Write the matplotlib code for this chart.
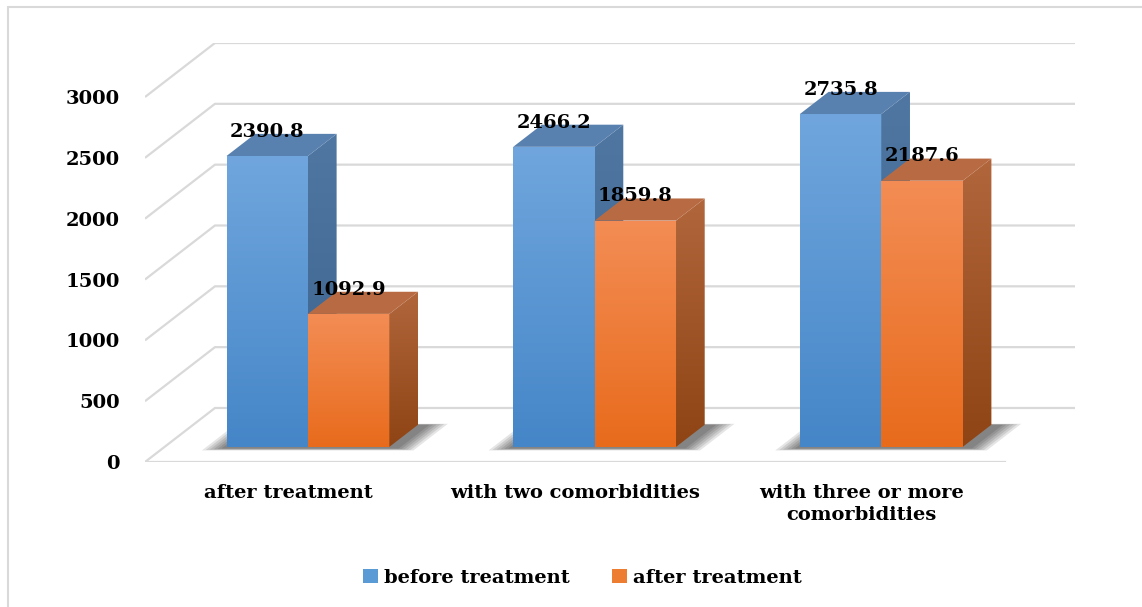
import numpy as np
import matplotlib.pyplot as plt
from matplotlib.patches import Polygon, Rectangle, Patch
from matplotlib.colors import LinearSegmentedColormap

categories = ["after treatment", "with two comorbidities", "with three or more\ncomorbidities"]
before = [2390.8, 2466.2, 2735.8]
after = [1092.9, 1859.8, 2187.6]
series_names = ["before treatment", "after treatment"]
yticks = [0, 500, 1000, 1500, 2000, 2500, 3000]

plt.rcParams['font.family'] = 'DejaVu Serif'
plt.rcParams['font.weight'] = 'bold'

W, H = 1142, 607
fig = plt.figure(figsize=(W / 100, H / 100), dpi=100)
ax = fig.add_axes([145 / W, (H - 462) / H, 930 / W, 419 / H])

# fake 3d: depth shift in category units / value units
dxc = 0.244
dyv = 444
f0, fd = 0.28, 0.41
bw = 0.284

def proj(x, y, d):
    return (x + d * dxc, y + d * dyv)

# back wall grid + floor front edge
for v in yticks:
    ax.plot([-0.5, -0.5 + dxc, 2.5 + dxc], [v, v + dyv, v + dyv],
            color='#d9d9d9', lw=1.6, zorder=1, solid_capstyle='butt')
ax.plot([-0.5, 2.5], [0, 0], color='#d9d9d9', lw=1.6, zorder=1)

front_cols = [('#70a6dd', '#4586c8'), ('#f38d55', '#e86b1c')]
side_cols = [('#4f77a2', '#3a628c'), ('#b2663c', '#8e4414')]
top_cols = ['#5981b0', '#b86b42']

grad = np.linspace(0, 1, 256).reshape(-1, 1)

def grad_fill(patch, c_bottom, c_top, z):
    cmap = LinearSegmentedColormap.from_list('g', [c_bottom, c_top])
    ax.add_patch(patch)
    if isinstance(patch, Rectangle):
        x0, y0 = patch.get_xy()
        ext = [x0, x0 + patch.get_width(), y0, y0 + patch.get_height()]
    else:
        xy = patch.get_xy()
        ext = [xy[:, 0].min(), xy[:, 0].max(), xy[:, 1].min(), xy[:, 1].max()]
    im = ax.imshow(grad, cmap=cmap, extent=ext, aspect='auto', origin='lower',
                   zorder=z, interpolation='bilinear')
    im.set_clip_path(patch)

for i in range(len(categories)):
    # soft floor shadow under the group
    gx0 = i - bw
    gx1 = i + bw
    for k in range(6):
        e = 0.012 * k
        pts = [proj(gx0 - 0.01 - e, 0, f0 - 0.03 - e * 0.6),
               proj(gx1 + 0.04 + e, 0, f0 - 0.03 - e * 0.6),
               proj(gx1 + 0.04 + e, 0, f0 + fd + e * 0.3),
               proj(gx0 - 0.01 - e, 0, f0 + fd + e * 0.3)]
        ax.add_patch(Polygon(pts, closed=True, facecolor='black', edgecolor='none',
                             alpha=0.1, zorder=2))
    for s, vals in enumerate([before, after]):
        v = vals[i]
        x0 = i - bw + s * bw
        z = 3 + s
        fx, fy = proj(x0, 0, f0)
        front = Rectangle((fx, fy), bw, v, facecolor='none', edgecolor='none', zorder=z)
        grad_fill(front, front_cols[s][1], front_cols[s][0], z)
        side = Polygon([proj(x0 + bw, 0, f0), proj(x0 + bw, 0, f0 + fd),
                        proj(x0 + bw, v, f0 + fd), proj(x0 + bw, v, f0)],
                       closed=True, facecolor='none', edgecolor='none', zorder=z)
        grad_fill(side, side_cols[s][1], side_cols[s][0], z)
        top = Polygon([proj(x0, v, f0), proj(x0 + bw, v, f0),
                       proj(x0 + bw, v, f0 + fd), proj(x0, v, f0 + fd)],
                      closed=True, facecolor=top_cols[s], edgecolor='none', zorder=z)
        ax.add_patch(top)
        ax.text(fx + bw / 2, v + fy + 200, f"{v:.1f}", ha='center', va='center',
                fontsize=14, fontweight='bold', zorder=10)

ax.set_xlim(-0.5, 2.5 + dxc)
ax.set_ylim(0, 3000 + dyv)
ax.set_aspect('auto')
ax.set_yticks(yticks)
ax.set_yticklabels([str(t) for t in yticks], fontsize=14, fontweight='bold')
ax.set_xticks(range(len(categories)))
ax.set_xticklabels(categories, fontsize=14, fontweight='bold', linespacing=1.3)
ax.tick_params(axis='y', length=0, pad=18)
ax.tick_params(axis='x', length=0, pad=16)
for sp in ax.spines.values():
    sp.set_visible(False)

handles = [Patch(facecolor='#5b9bd5'), Patch(facecolor='#ed7d31')]
fig.legend(handles, series_names, loc='center', bbox_to_anchor=(0.51, (H - 578) / H),
           ncol=2, frameon=False, handlelength=0.75, handleheight=0.75,
           handletextpad=0.3, columnspacing=2.2, prop={'weight': 'bold', 'size': 14})

fig.add_artist(Rectangle((8 / W, -0.5), 1, (H - 7) / H + 0.5, transform=fig.transFigure,
                         facecolor='none', edgecolor='#d9d9d9', lw=1.5))

fig.savefig('out.png', dpi=100)
